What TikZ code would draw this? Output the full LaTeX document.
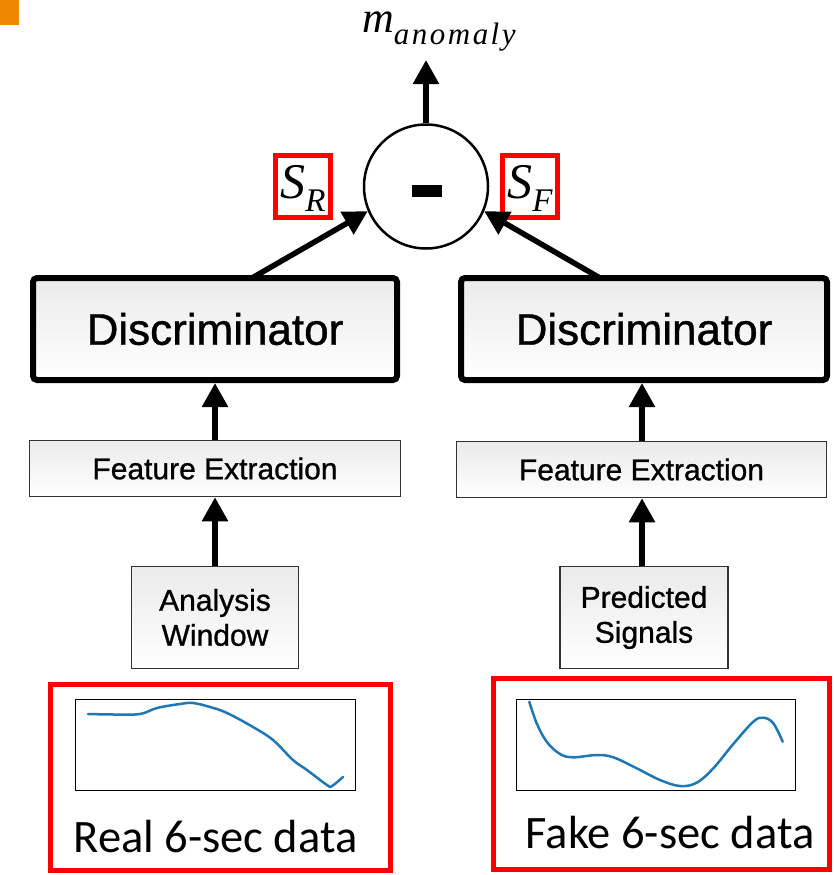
\documentclass[tikz,border=0pt]{standalone}
\usepackage{fontspec}
\setmainfont{Liberation Sans}
\newfontfamily\hv{Liberation Sans}[FakeBold=0.9]
\newfontfamily\tmit{Liberation Serif Italic}
\newfontfamily\cb{Carlito}
\usetikzlibrary{arrows.meta,calc}
\definecolor{plotblue}{HTML}{1F77B4}
\definecolor{tagorange}{RGB}{238,136,0}
\definecolor{boxedge}{HTML}{333333}
\begin{document}
\begin{tikzpicture}[x=1pt,y=-1pt,
  arr/.style={line width=5.5pt,-{Triangle[length=24pt,width=25pt]}},
  discbox/.style={draw=black,line width=6pt,rounded corners=4pt,top color=black!8,bottom color=white,
    font=\hv\fontsize{44}{48}\selectfont,minimum height=102pt,inner sep=0pt},
  stagebox/.style={draw=boxedge,line width=1.5pt,top color=black!8,bottom color=white,
    font=\hv\fontsize{30}{35}\selectfont,inner sep=0pt,align=center},
  scorebox/.style={draw=red,line width=4.5pt,minimum width=55pt,minimum height=62pt,inner sep=0pt,
    text height=35pt,text depth=12pt},
  databox/.style={draw=red,line width=5pt,inner sep=0pt},
  frame/.style={draw=black,line width=1pt},
  trace/.style={draw=plotblue,line width=2.5pt,line cap=round,line join=round},
  datalabel/.style={font=\cb\fontsize{46.5}{50}\selectfont,anchor=base,inner sep=0pt}
]
\useasboundingbox (0,0) rectangle (833,875);

% corner tag
\fill[tagorange] (0,0) rectangle (19,25);

% subtraction node and output
\node[draw=black,line width=2.5pt,circle,minimum size=124pt,inner sep=0pt] (circ) at (426,186.5) {};
\fill (412,185) rectangle (442,197);
\node[anchor=base west,inner sep=0pt] (mlabel) at (362,33)
  {\tmit\fontsize{44}{44}\selectfont m\raisebox{-12pt}{\fontsize{31}{31}\selectfont\addfontfeature{LetterSpace=8}anomaly}};
\coordinate (mout) at (426,60);
\draw[arr] (circ) -- (mout);

% scores
\node[scorebox] (sr) at (303,186.5) {\tmit\fontsize{50}{50}\selectfont S\raisebox{-13pt}{\fontsize{33}{33}\selectfont R}};
\node[scorebox] (sf) at (530,186.5) {\tmit\fontsize{50}{50}\selectfont S\raisebox{-13pt}{\fontsize{33}{33}\selectfont F}};

% discriminators
\node[discbox,minimum width=364pt] (discL) at (215,329) {Discriminator};
\node[discbox,minimum width=366pt] (discR) at (644,329) {Discriminator};
\draw[arr] ($(discL.north)+(37,3)$) -- (circ.203);
\draw[arr] ($(discR.north)+(-44,3)$) -- (circ.337);

% feature extraction
\node[stagebox,minimum width=371pt,minimum height=56pt] (feL) at (215,468.5) {Feature Extraction};
\node[stagebox,minimum width=370pt,minimum height=56pt] (feR) at (641.5,469.5) {Feature Extraction};
\draw[arr] (feL.north) -- (feL.north |- discL.south);
\draw[arr] ($(feR.north)+(0.5,0)$) -- ($(feR.north |- discR.south)+(0.5,0)$);

% inputs
\node[stagebox,minimum width=167pt,minimum height=102pt] (aw) at (215,617.5) {Analysis\\Window};
\node[stagebox,minimum width=168pt,minimum height=102pt] (ps) at (644,617.5) {Predicted\\Signals};
\draw[arr] (aw.north) -- (aw.north |- feL.south);
\draw[arr] ($(ps.north)+(-2,0)$) -- ($(ps.north |- feR.south)+(-2,0)$);

% real data panel
\node[databox,minimum width=340pt,minimum height=186pt] (realbox) at (220.5,777.5) {};
\draw[frame] (75,699) rectangle (355,790);
\draw[trace] plot[smooth,tension=0.6] coordinates {(88,714) (115,714.5) (140,714) (157,708) (180,704)
  (193,703) (210,707) (227,713) (253,727) (273,740) (293,760) (307,770) (327,785) (332,786) (343,777)};
\node[datalabel] (reallbl) at (215.5,852) {Real 6-sec data};

% fake data panel
\node[databox,minimum width=336pt,minimum height=191pt] (fakebox) at (661.5,774) {};
\draw[frame] (516,699) rectangle (795,790);
\draw[trace] plot[smooth,tension=0.6] coordinates {(529.3,701.7) (536.7,723.3) (546.7,741.7) (560,754)
  (573.3,757.3) (596.7,755) (613.3,757.3) (636.7,768.3) (660,780) (680,786) (696.7,782.7) (713.3,768.3)
  (733.3,744) (753.3,721.7) (763.3,717.7) (773.3,723.3) (782.7,741.7)};
\node[datalabel] (fakelbl) at (670,848) {Fake 6-sec data};
\end{tikzpicture}
\end{document}
